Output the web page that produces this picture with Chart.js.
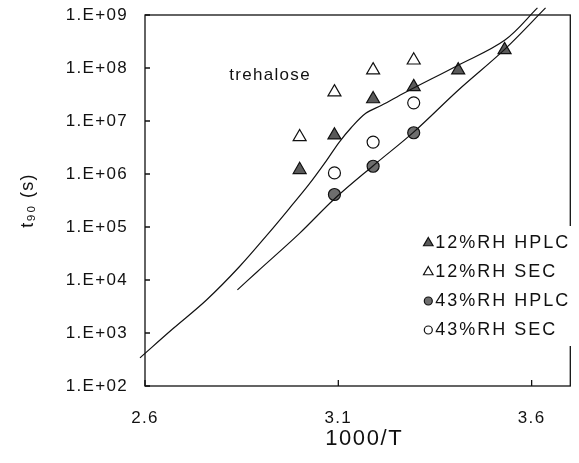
<!DOCTYPE html>
<html>
<head>
<meta charset="utf-8">
<script src="https://cdn.jsdelivr.net/npm/chart.js@4.4.1/dist/chart.umd.min.js"></script>
<style>
  html, body { margin: 0; padding: 0; background: #fff; }
  #wrap { width: 579px; height: 463px; }
</style>
</head>
<body>
<div id="wrap"><canvas id="chart" width="579" height="463"></canvas></div>
<script>
// x = 1000/T, y = t90 in seconds (log axis)
const hplc12X = [3.00, 3.09, 3.19, 3.295, 3.41, 3.53];
const hplc12Y = [1.2e6, 5.4e6, 2.6e7, 4.4e7, 9.1e7, 2.2e8];
const sec12X = [3.00, 3.09, 3.19, 3.295];
const sec12Y = [5.0e6, 3.5e7, 9.1e7, 1.4e8];
const hplc43X = [3.09, 3.19, 3.295];
const hplc43Y = [4.1e5, 1.4e6, 6.0e6];
const sec43X = [3.09, 3.19, 3.295];
const sec43Y = [1.05e6, 4.0e6, 2.2e7];

// fitted curves
const fit12X = [2.587, 2.672, 2.759, 2.844, 2.921, 2.973, 3.024, 3.068, 3.102, 3.132, 3.171, 3.212, 3.274, 3.410, 3.531, 3.615];
const fit12Y = [3.4e2, 1.2e3, 4.2e3, 1.78e4, 7.85e4, 2.23e5, 6.35e5, 1.73e6, 3.96e6, 7.3e6, 1.4e7, 1.98e7, 3.49e7, 1.13e8, 3.37e8, 1.36e9];
const fit43X = [2.839, 2.891, 2.999, 3.091, 3.191, 3.294, 3.410, 3.531, 3.636];
const fit43Y = [6.5e3, 1.45e4, 7.5e4, 3.45e5, 1.45e6, 6.1e6, 3.81e7, 2.27e8, 1.36e9];

const xTicks = [2.6, 3.1, 3.6];
const yTicks = [1e2, 1e3, 1e4, 1e5, 1e6, 1e7, 1e8, 1e9];
const yTickLabels = ['1.E+02', '1.E+03', '1.E+04', '1.E+05', '1.E+06', '1.E+07', '1.E+08', '1.E+09'];

const pairs = (xs, ys) => xs.map((x, i) => ({ x: x, y: ys[i] }));

const INK = '#111';
const FONT = '"Liberation Sans", Arial, Helvetica, sans-serif';

Chart.defaults.font.family = FONT;
Chart.defaults.color = INK;

const spacing = {
    id: 'spacing',
    beforeDraw(chart) {
        chart.ctx.letterSpacing = '1.3px';
    },
};

const frame = {
    id: 'frame',
    beforeDatasetsDraw(chart) {
        const { ctx, chartArea: a, scales } = chart;
        ctx.save();
        ctx.strokeStyle = INK;
        ctx.lineWidth = 1.3;
        ctx.strokeRect(a.left, a.top, a.right - a.left, a.bottom - a.top);
        ctx.beginPath();
        yTicks.forEach(v => {
            const y = scales.y.getPixelForValue(v);
            ctx.moveTo(a.left, y);
            ctx.lineTo(a.left + 5, y);
        });
        xTicks.forEach(v => {
            const x = scales.x.getPixelForValue(v);
            ctx.moveTo(x, a.bottom);
            ctx.lineTo(x, a.bottom - 6);
        });
        ctx.stroke();

        ctx.fillStyle = INK;
        ctx.textBaseline = 'middle';
        ctx.font = '17px ' + FONT;
        ctx.fillText('trehalose', scales.x.getPixelForValue(2.818), scales.y.getPixelForValue(7.3e7));

        // x axis title, sits a little right of the axis centre in the original
        ctx.font = '22px ' + FONT;
        ctx.letterSpacing = '1.6px';
        ctx.textAlign = 'center';
        ctx.fillText('1000/T', scales.x.getPixelForValue(3.167), a.bottom + 53);
        ctx.restore();
    },
};

const boxLegend = {
    id: 'boxLegend',
    afterDatasetsDraw(chart) {
        const { ctx, chartArea: a } = chart;
        ctx.save();
        ctx.fillStyle = '#fff';
        ctx.fillRect(a.right - 150, a.top + 211, 160, 120);
        ctx.font = '18px ' + FONT;
        ctx.letterSpacing = '2px';
        ctx.textBaseline = 'middle';
        let row = 0;
        chart.data.datasets.forEach(ds => {
            if (ds.showLine) return;
            const y = a.top + 228 + row * 29;
            const x = a.right - 142;
            ctx.fillStyle = ds.backgroundColor;
            ctx.strokeStyle = ds.borderColor;
            ctx.lineWidth = ds.borderWidth;
            Chart.helpers.drawPoint(ctx, {
                pointStyle: ds.pointStyle,
                radius: ds.pointStyle === 'triangle' ? 5.5 : 4,
                borderWidth: ds.borderWidth,
                rotation: 0,
            }, x, y);
            ctx.fillStyle = INK;
            ctx.fillText(ds.label, x + 7, y);
            row++;
        });
        ctx.restore();
    },
};

new Chart(document.getElementById('chart'), {
    type: 'scatter',
    data: {
        datasets: [
            {
                label: 'fit 12%RH',
                data: pairs(fit12X, fit12Y),
                showLine: true,
                borderColor: INK,
                borderWidth: 1.2,
                pointRadius: 0,
                tension: 0.35,
                clip: false,
            },
            {
                label: 'fit 43%RH',
                data: pairs(fit43X, fit43Y),
                showLine: true,
                borderColor: INK,
                borderWidth: 1.2,
                pointRadius: 0,
                tension: 0.35,
                clip: false,
            },
            {
                label: '12%RH HPLC',
                data: pairs(hplc12X, hplc12Y),
                pointStyle: 'triangle',
                pointRadius: 7.5,
                backgroundColor: '#5a5a5a',
                borderColor: INK,
                borderWidth: 1.2,
            },
            {
                label: '12%RH SEC',
                data: pairs(sec12X, sec12Y),
                pointStyle: 'triangle',
                pointRadius: 7.5,
                backgroundColor: '#fff',
                borderColor: INK,
                borderWidth: 1.2,
            },
            {
                label: '43%RH HPLC',
                data: pairs(hplc43X, hplc43Y),
                pointStyle: 'circle',
                pointRadius: 6,
                backgroundColor: '#6e6e6e',
                borderColor: INK,
                borderWidth: 1.2,
            },
            {
                label: '43%RH SEC',
                data: pairs(sec43X, sec43Y),
                pointStyle: 'circle',
                pointRadius: 6,
                backgroundColor: '#fff',
                borderColor: INK,
                borderWidth: 1.2,
            },
        ],
    },
    options: {
        responsive: false,
        animation: false,
        devicePixelRatio: 1,
        layout: { padding: { left: 0, right: 6, top: 15, bottom: 0 } },
        plugins: { legend: { display: false }, tooltip: { enabled: false } },
        scales: {
            x: {
                type: 'linear',
                min: 2.6,
                max: 3.7,
                afterBuildTicks: scale => { scale.ticks = xTicks.map(v => ({ value: v })); },
                afterFit: scale => { scale.height = 77; },
                grid: { display: false, drawTicks: false },
                border: { display: false },
                ticks: { padding: 22, font: { size: 17 }, color: INK, callback: v => v.toFixed(1) },
            },
            y: {
                type: 'logarithmic',
                min: 1e2,
                max: 1e9,
                afterBuildTicks: scale => { scale.ticks = yTicks.map(v => ({ value: v })); },
                afterFit: scale => {
                    scale.width = 145;
                    scale.paddingTop = 0;
                    scale.paddingBottom = 0;
                },
                grid: { display: false, drawTicks: false },
                border: { display: false },
                ticks: {
                    padding: 17,
                    font: { size: 17 },
                    color: INK,
                    callback: (v, i) => yTickLabels[i],
                },
                title: { display: true, text: 't₉₀ (s)', font: { size: 18 }, color: INK, padding: { top: 17 } },
            },
        },
    },
    plugins: [spacing, frame, boxLegend],
});
</script>
</body>
</html>
